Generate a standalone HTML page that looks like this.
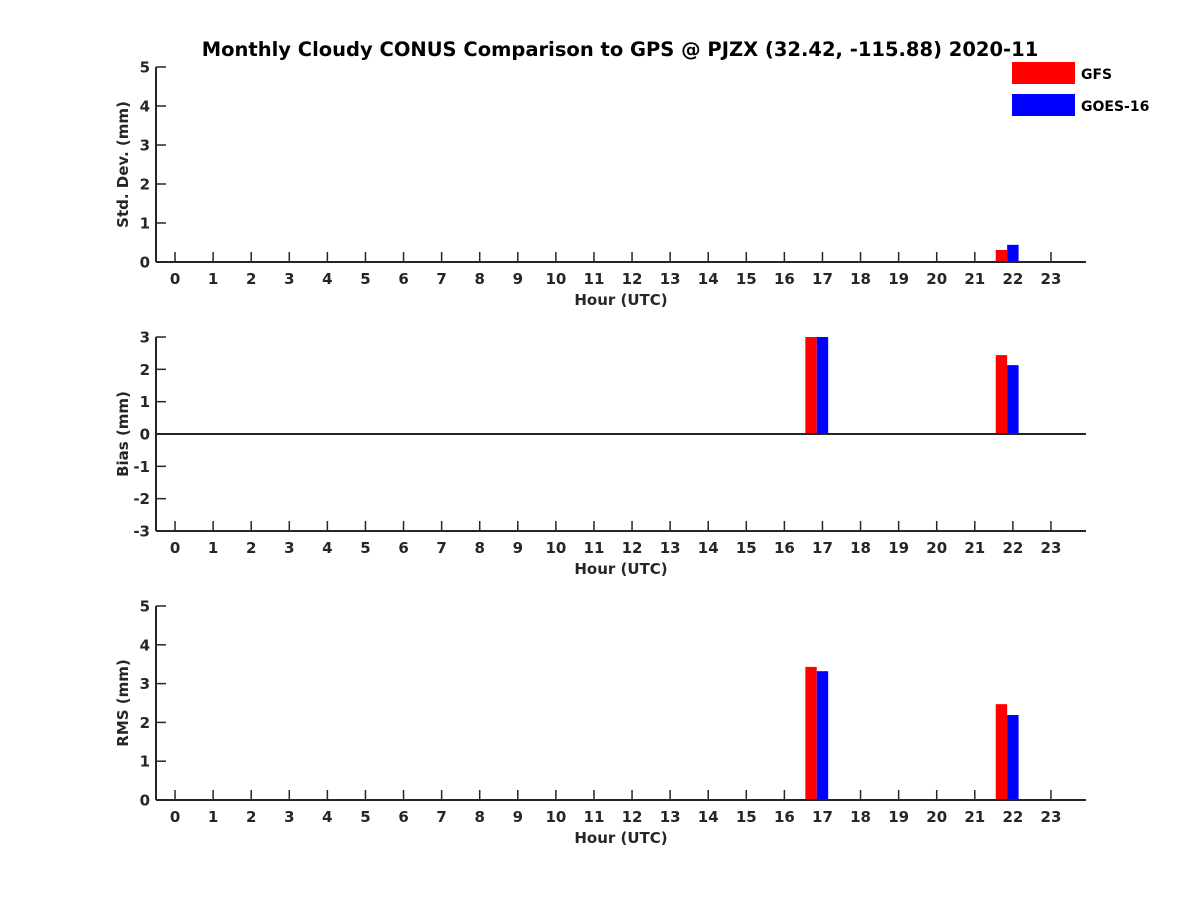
<!DOCTYPE html>
<html><head><meta charset="utf-8"><style>
body{margin:0;background:#fff}
svg{display:block;font-family:"DejaVu Sans","Liberation Sans",sans-serif;font-weight:bold}
</style></head><body>
<svg id="chart" width="1200" height="900" xmlns="http://www.w3.org/2000/svg">
<rect width="1200" height="900" fill="#fff"/>
<text x="620" y="56" text-anchor="middle" font-size="19.5" fill="#000">Monthly Cloudy CONUS Comparison to GPS @ PJZX (32.42, -115.88) 2020-11</text>
<g>
<rect x="1012" y="62" width="63" height="22" fill="#ff0000"/>
<text x="1081" y="79" font-size="14" fill="#000">GFS</text>
<rect x="1012" y="94" width="63" height="22" fill="#0000ff"/>
<text x="1081" y="111" font-size="14" fill="#000">GOES-16</text>
</g>
</svg>
<script>
const hours=[...Array(24).keys()];
const stdGFS=[0,0,0,0,0,0,0,0,0,0,0,0,0,0,0,0,0,0,0,0,0,0,0.31,0];
const stdGOES=[0,0,0,0,0,0,0,0,0,0,0,0,0,0,0,0,0,0,0,0,0,0,0.44,0];
const biasGFS=[0,0,0,0,0,0,0,0,0,0,0,0,0,0,0,0,0,3.0,0,0,0,0,2.44,0];
const biasGOES=[0,0,0,0,0,0,0,0,0,0,0,0,0,0,0,0,0,3.0,0,0,0,0,2.13,0];
const rmsGFS=[0,0,0,0,0,0,0,0,0,0,0,0,0,0,0,0,0,3.43,0,0,0,0,2.47,0];
const rmsGOES=[0,0,0,0,0,0,0,0,0,0,0,0,0,0,0,0,0,3.32,0,0,0,0,2.19,0];
const stdTicks=[0,1,2,3,4,5];
const biasTicks=[-3,-2,-1,0,1,2,3];
const rmsTicks=[0,1,2,3,4,5];

const svg=document.getElementById('chart');
const NS='http://www.w3.org/2000/svg';
const X0=156,X1=1086,xmin=-0.5,xmax=23.92;
const xs=v=>X0+(v-xmin)/(xmax-xmin)*(X1-X0);
function el(t,a){const e=document.createElementNS(NS,t);for(const k in a)e.setAttribute(k,a[k]);svg.appendChild(e);return e;}
const C='#262626';
const panels=[
 {name:'std',top:67,bot:262,ymin:0,ymax:5,ticks:stdTicks,g:stdGFS,b:stdGOES,label:'Std. Dev. (mm)'},
 {name:'bias',top:337,bot:531,ymin:-3,ymax:3,ticks:biasTicks,g:biasGFS,b:biasGOES,label:'Bias (mm)'},
 {name:'rms',top:606,bot:800,ymin:0,ymax:5,ticks:rmsTicks,g:rmsGFS,b:rmsGOES,label:'RMS (mm)'}
];
panels.forEach(p=>{
 const ys=v=>p.bot-(v-p.ymin)/(p.ymax-p.ymin)*(p.bot-p.top);
 const base=ys(Math.max(p.ymin,0));
 p.ticks.forEach(t=>{
  const y=ys(t);
  const tl=el('line',{x1:X0,y1:y,x2:X0+10,y2:y,stroke:C,'stroke-width':1.5});
  
  
  const tx=el('text',{x:X0-6,y:y+5.5,'text-anchor':'end','font-size':15,fill:C});
  tx.textContent=t;
  
  
 });
 hours.forEach(h=>{
  const x=xs(h);
  const tl=el('line',{x1:x,y1:p.bot,x2:x,y2:p.bot-10,stroke:C,'stroke-width':1.5});
  
  
  const tx=el('text',{x:x,y:p.bot+22,'text-anchor':'middle','font-size':15,fill:C});
  tx.textContent=h;
  
  
 });
 hours.forEach(h=>{
  [[p.g,'#ff0000',-0.3,'gfs'],[p.b,'#0000ff',0,'goes16']].forEach(([arr,col,off,nm])=>{
   const v=Math.min(Math.max(arr[h],p.ymin),p.ymax);
   if(v===0)return;
   const x=xs(h-0.15+off);
   const r=el('rect',{x:x,y:Math.min(ys(v),base),width:xs(0.3)-xs(0),height:Math.abs(base-ys(v)),fill:col});
   
   
  });
 });
 const ya=el('line',{x1:X0,y1:p.top,x2:X0,y2:p.bot,stroke:C,'stroke-width':2});
 
 
 const xa=el('line',{x1:X0,y1:p.bot,x2:X1,y2:p.bot,stroke:C,'stroke-width':2});
 
 
 if(p.ymin<0){
  const z=el('line',{x1:X0,y1:ys(0),x2:X1,y2:ys(0),stroke:C,'stroke-width':2});
  
  
 }
 const xt=el('text',{x:621,y:p.bot+43,'text-anchor':'middle','font-size':15,fill:C});
 xt.textContent='Hour (UTC)';
 
 
 const cy=(p.top+p.bot)/2;
 const yt=el('text',{x:0,y:0,'text-anchor':'middle','font-size':15,fill:C,transform:`translate(128,${cy}) rotate(-90)`});
 yt.textContent=p.label;
 
 
});
</script>
</body></html>
